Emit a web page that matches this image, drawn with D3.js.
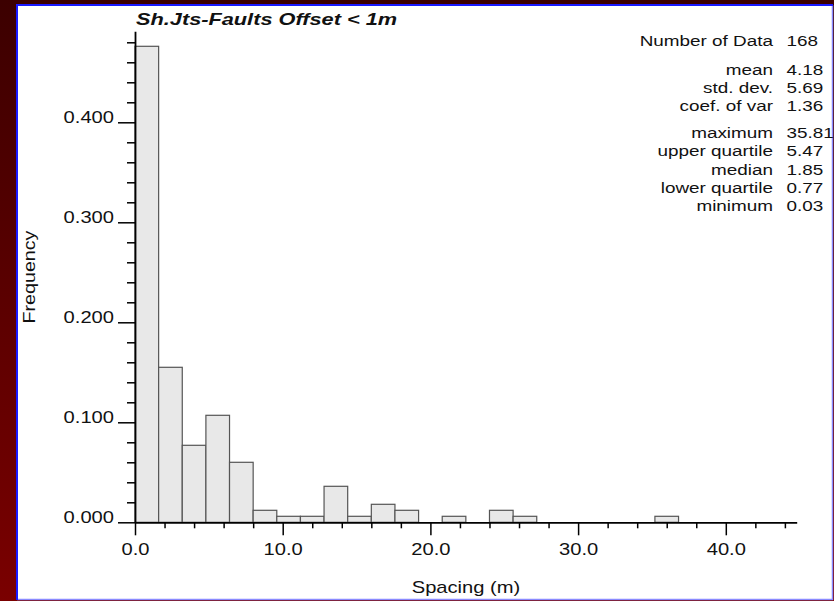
<!DOCTYPE html>
<html>
<head>
<meta charset="utf-8">
<script src="https://cdn.jsdelivr.net/npm/d3@7"></script>
<style>
  html, body { margin: 0; padding: 0; background: #fff; }
  svg { display: block; }
  text { font-family: "Liberation Sans", Arial, Helvetica, sans-serif; fill: #111; }
</style>
</head>
<body>
<svg id="chart" width="834" height="601"></svg>
<script>
// Histogram of spacing between shear joints / faults (offset < 1 m)
const title = "Sh.Jts-Faults Offset < 1m";
const xLabel = "Spacing (m)";
const yLabel = "Frequency";

// Lower edge of each class (m); every class is 1.6 m wide
const binLower = [0.0, 1.6, 3.2, 4.8, 6.4, 8.0, 9.6, 11.2, 12.8, 14.4, 16.0, 17.6,
                  19.2, 20.8, 22.4, 24.0, 25.6, 27.2, 28.8, 30.4, 32.0, 33.6, 35.2];
const binWidth = 1.6;
// Relative frequency of each class
const frequency = [0.476, 0.155, 0.077, 0.107, 0.060, 0.012, 0.006, 0.006, 0.036, 0.006, 0.018, 0.012,
                   0.000, 0.006, 0.000, 0.012, 0.006, 0.000, 0.000, 0.000, 0.000, 0.000, 0.006];

// Axis ticks
const xMajorTicks = [0, 10, 20, 30, 40];
const xMinorTicks = [2, 4, 6, 8, 12, 14, 16, 18, 22, 24, 26, 28, 32, 34, 36, 38, 42, 44];
const yMajorTicks = [0.0, 0.1, 0.2, 0.3, 0.4];
const yMinorTicks = [0.02, 0.04, 0.06, 0.08, 0.12, 0.14, 0.16, 0.18, 0.22, 0.24, 0.26, 0.28,
                     0.32, 0.34, 0.36, 0.38, 0.42, 0.44, 0.46, 0.48];

// Summary statistics
const statGroups = [
  [["Number of Data", "168"]],
  [["mean", "4.18"], ["std. dev.", "5.69"], ["coef. of var", "1.36"]],
  [["maximum", "35.81"], ["upper quartile", "5.47"], ["median", "1.85"],
   ["lower quartile", "0.77"], ["minimum", "0.03"]]
];

// The lettering is set in a wide face: widen glyphs along the text direction
const WIDE = 1.26;
const FONT = "Liberation Sans, Arial, sans-serif";

const svg = d3.select("#chart");

// Slide background: dark red gradient with a white panel framed in blue
const defs = svg.append("defs");
const grad = defs.append("linearGradient").attr("id", "bg")
  .attr("x1", 0).attr("y1", 0).attr("x2", 0).attr("y2", 1);
grad.append("stop").attr("offset", "0%").attr("stop-color", "#3c0000");
grad.append("stop").attr("offset", "100%").attr("stop-color", "#7a0000");
svg.append("rect").attr("width", 834).attr("height", 601).attr("fill", "url(#bg)");

svg.append("rect").attr("x", 17).attr("y", 5).attr("width", 816).attr("height", 595)
  .attr("fill", "#ffffff");
// lighter right / bottom frame edges
svg.append("path").attr("d", "M832.5,5 V599.5 H17")
  .attr("fill", "none").attr("stroke", "#8a8aff").attr("stroke-width", 1.5);
// bright left / top frame edges
svg.append("path").attr("d", "M17,600 V5 H833")
  .attr("fill", "none").attr("stroke", "#1a1aff").attr("stroke-width", 2);

// Scales
const x = d3.scaleLinear().domain([0, 44.8]).range([135, 796.7]);
const y = d3.scaleLinear().domain([0, 0.491]).range([522.3, 31.3]);
const y0 = y(0);

// Bars
svg.append("g").selectAll("rect").data(frequency).join("rect")
  .attr("x", (d, i) => x(binLower[i]))
  .attr("width", (d, i) => x(binLower[i] + binWidth) - x(binLower[i]))
  .attr("y", d => y(d))
  .attr("height", d => y0 - y(d))
  .attr("fill", "#e8e8e8")
  .attr("stroke", "#555")
  .attr("stroke-width", 1.2);

// X axis
const gx = svg.append("g").attr("transform", `translate(0,${y0})`);
gx.call(d3.axisBottom(x).tickValues(xMinorTicks).tickSize(6).tickSizeOuter(0).tickFormat(""));
gx.call(g => g.select(".domain").attr("stroke", "#000").attr("stroke-width", 1.8));
gx.selectAll(".tick line").attr("stroke", "#000").attr("stroke-width", 1.5);
const gxMaj = svg.append("g").attr("transform", `translate(0,${y0})`)
  .call(d3.axisBottom(x).tickValues(xMajorTicks).tickSize(13).tickFormat(d3.format(".1f")));
gxMaj.select(".domain").remove();
gxMaj.selectAll(".tick line").attr("stroke", "#000").attr("stroke-width", 1.5);
gxMaj.selectAll(".tick text")
  .attr("x", 0).attr("y", 0).attr("dy", 0)
  .attr("transform", `translate(0,33) scale(${WIDE},1)`)
  .style("font-size", "16px").style("font-family", FONT)
  .attr("fill", "#222");

// Y axis
const gy = svg.append("g").attr("transform", `translate(${x(0)},0)`);
gy.call(d3.axisLeft(y).tickValues(yMinorTicks).tickSize(8).tickSizeOuter(0).tickFormat(""));
gy.select(".domain").attr("stroke", "#000").attr("stroke-width", 1.8);
gy.selectAll(".tick line").attr("stroke", "#000").attr("stroke-width", 1.5);
const gyMaj = svg.append("g").attr("transform", `translate(${x(0)},0)`)
  .call(d3.axisLeft(y).tickValues(yMajorTicks).tickSize(17).tickFormat(d3.format(".3f")));
gyMaj.select(".domain").remove();
gyMaj.selectAll(".tick line").attr("stroke", "#000").attr("stroke-width", 1.5);
gyMaj.selectAll(".tick text")
  .attr("x", 0).attr("y", 0).attr("dy", 0)
  .attr("transform", `translate(-21,0) scale(${WIDE},1)`)
  .style("font-size", "16px").style("font-family", FONT)
  .attr("fill", "#222");

// Title
svg.append("text").attr("transform", "translate(136,25) scale(1.36,1)")
  .style("font-size", "16px").style("font-weight", "bold").style("font-style", "italic")
  .attr("fill", "#111")
  .text(title);

// Axis titles
svg.append("text").attr("transform", `translate(466,593) scale(${WIDE},1)`)
  .attr("text-anchor", "middle")
  .style("font-size", "16px").attr("fill", "#222").text(xLabel);
svg.append("text").attr("transform", `translate(35,277) rotate(-90) scale(1.23,1)`)
  .attr("text-anchor", "middle")
  .style("font-size", "16px").attr("fill", "#222").text(yLabel);

// Statistics block
const statBaselines = [[46], [75, 93, 111], [138, 156, 174.5, 192.5, 211]];
const gs = svg.append("g");
statGroups.forEach((grp, gi) => {
  grp.forEach((row, ri) => {
    const by = statBaselines[gi][ri];
    gs.append("text").attr("transform", `translate(773,${by}) scale(${WIDE},1)`)
      .attr("text-anchor", "end")
      .style("font-size", "15px").attr("fill", "#222").text(row[0]);
    gs.append("text").attr("transform", `translate(786.5,${by}) scale(${WIDE},1)`)
      .style("font-size", "15px").attr("fill", "#222").text(row[1]);
  });
});
</script>
</body>
</html>
